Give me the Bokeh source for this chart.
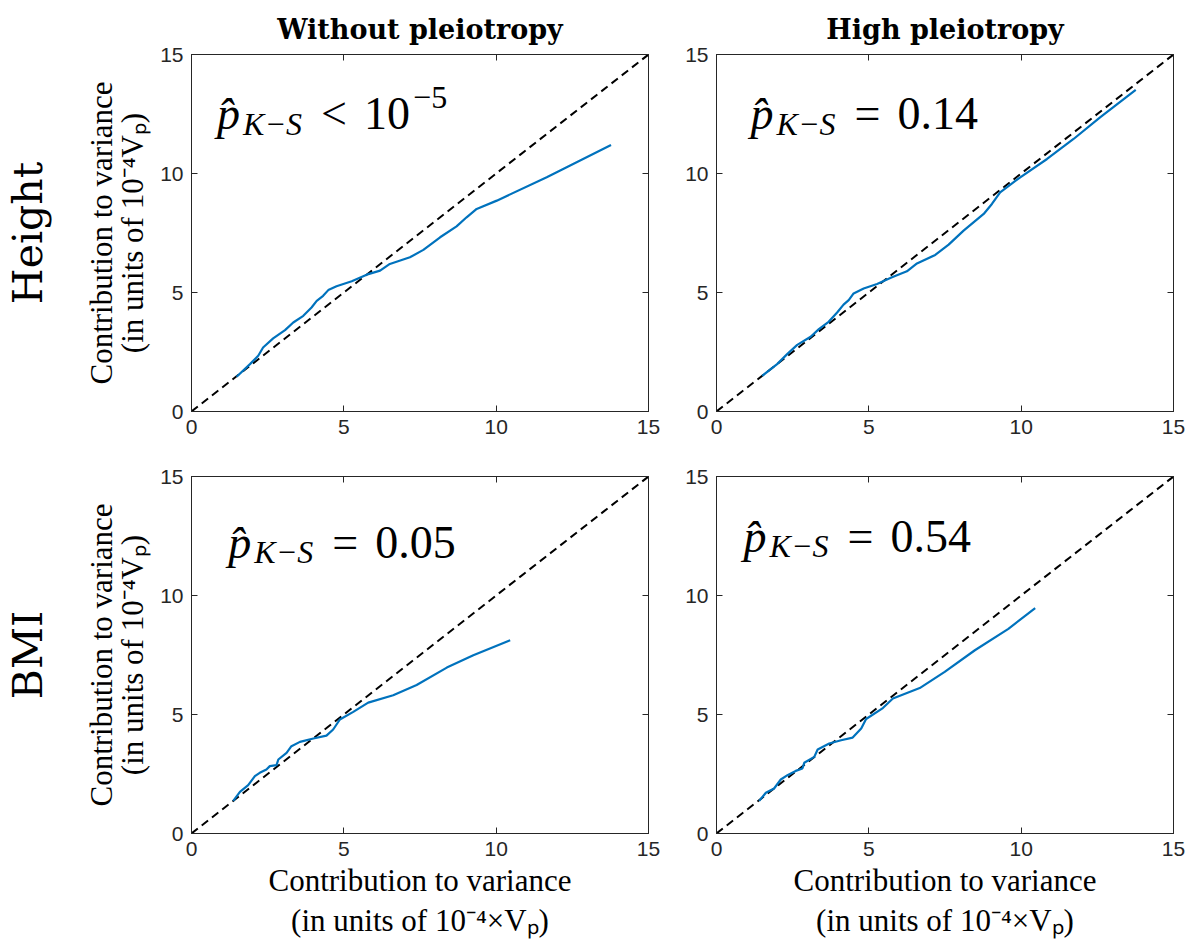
from bokeh.plotting import figure
from bokeh.models import LinearAxis, FixedTicker, Label, Range1d, CustomLabelingPolicy
from bokeh.layouts import column, row
from bokeh.embed import file_html
from bokeh.resources import INLINE

# ---------------- data ----------------
ticks = [0, 5, 10, 15]
col_titles = ["Without pleiotropy", "High pleiotropy"]
row_titles = ["Height", "BMI"]

height_nopleio_x = [1.48, 1.92, 2.19, 2.35, 2.68, 3.07, 3.34, 3.67, 3.94, 4.11, 4.32, 4.49, 4.76, 5.26,
                    5.75, 6.19, 6.51, 7.17, 7.61, 8.16, 8.70, 9.03, 9.36, 10.02, 11.66, 13.77]
height_nopleio_y = [1.46, 1.99, 2.34, 2.69, 3.07, 3.42, 3.74, 4.02, 4.37, 4.65, 4.86, 5.10, 5.26, 5.47,
                    5.75, 5.92, 6.20, 6.48, 6.79, 7.32, 7.78, 8.16, 8.51, 8.86, 9.84, 11.20]

height_pleio_x = [1.50, 1.99, 2.32, 2.65, 3.09, 3.36, 3.68, 3.96, 4.17, 4.34, 4.50, 4.83, 5.27, 5.76,
                  6.25, 6.58, 7.18, 7.62, 8.11, 8.77, 9.04, 9.31, 9.97, 10.85, 11.72, 12.59, 13.76]
height_pleio_y = [1.50, 1.99, 2.41, 2.80, 3.14, 3.46, 3.77, 4.16, 4.49, 4.68, 4.96, 5.17, 5.36, 5.64,
                  5.89, 6.22, 6.58, 7.01, 7.60, 8.30, 8.72, 9.21, 9.84, 10.61, 11.45, 12.36, 13.51]

bmi_nopleio_x = [1.37, 1.59, 1.86, 2.08, 2.24, 2.46, 2.57, 2.79, 2.85, 3.12, 3.28, 3.56, 4.00, 4.43,
                 4.65, 4.87, 5.31, 5.80, 6.62, 7.39, 8.38, 9.25, 10.46]
bmi_nopleio_y = [1.37, 1.75, 2.03, 2.41, 2.55, 2.69, 2.83, 2.87, 3.11, 3.39, 3.67, 3.85, 3.99, 4.11,
                 4.37, 4.79, 5.11, 5.50, 5.81, 6.24, 6.97, 7.49, 8.12]

bmi_pleio_x = [1.40, 1.62, 1.89, 2.11, 2.33, 2.60, 2.82, 2.88, 3.21, 3.32, 3.70, 4.09, 4.47, 4.75,
               4.91, 5.46, 5.79, 6.67, 7.49, 8.48, 9.58, 10.46]
bmi_pleio_y = [1.37, 1.71, 1.89, 2.27, 2.45, 2.63, 2.73, 2.97, 3.22, 3.53, 3.78, 3.92, 4.03, 4.41,
               4.81, 5.27, 5.67, 6.11, 6.79, 7.70, 8.60, 9.47]

diag = [0, 15]

ann_relation = ["<", "=", "=", "="]
ann_value = ["10", "0.14", "0.05", "0.54"]
ann_sup = ["\u22125", "", "", ""]

# ---------------- styles ----------------
BLUE = "#0072BD"
AX = "#262626"
TICK_FONT = "Liberation Sans"
SERIF = "Liberation Serif"
YLABEL = "Contribution to variance\n(in units of 10\u207b\u2074V\u209a)"
XLABEL = "Contribution to variance\n(in units of 10\u207b\u2074\u00d7V\u209a)"

NO_LABELS = CustomLabelingPolicy(code="""
const ids = [...indices]
for (const i of ids) indices.unset(i)
return indices
""")


def style_axis(ax, show_labels=True):
    ax.ticker = FixedTicker(ticks=ticks)
    ax.major_tick_in = 6
    ax.major_tick_out = 0
    ax.minor_tick_line_color = None
    ax.axis_line_color = AX
    ax.major_tick_line_color = AX
    ax.major_label_text_font = TICK_FONT
    ax.major_label_text_color = AX
    if show_labels:
        ax.major_label_text_font_size = "21px"
        ax.major_label_standoff = 8
    else:
        ax.major_label_text_font_size = "1px"
        ax.major_label_policy = NO_LABELS
        ax.major_label_standoff = 0


def panel(xs, ys, idx, width, height, mbl, mbr, mbt, mbb, title=None, ylabel=False,
          xlabel=False, rowlabel=None, ann_x=1.0, ann_y=12.5, rowlabel_standoff=29):
    p = figure(width=width, height=height, x_range=Range1d(0, 15), y_range=Range1d(0, 15),
               output_backend="svg", toolbar_location=None,
               min_border_left=mbl, min_border_right=mbr, min_border_top=mbt, min_border_bottom=mbb,
               title=title)
    p.grid.visible = False
    p.outline_line_color = AX
    p.background_fill_color = "white"
    p.border_fill_color = "white"
    if title:
        p.title.text_font = "DejaVu Serif"
        p.title.text_font_style = "bold"
        p.title.text_font_size = "27px"
        p.title.align = "center"
        p.title.text_color = "black"
        p.title.standoff = 12

    xb = p.xaxis[0]
    yl = p.yaxis[0]
    style_axis(xb)
    style_axis(yl)

    top = LinearAxis()
    style_axis(top, show_labels=False)
    p.add_layout(top, "above")
    right = LinearAxis()
    style_axis(right, show_labels=False)
    p.add_layout(right, "right")

    if ylabel:
        yl.axis_label = YLABEL
        yl.axis_label_text_font = SERIF
        yl.axis_label_text_font_style = "normal"
        yl.axis_label_text_font_size = "31px"
        yl.axis_label_text_line_height = 0.9
        yl.axis_label_standoff = 7
        yl.axis_label_text_color = "black"
    if xlabel:
        xb.axis_label = XLABEL
        xb.axis_label_text_font = SERIF
        xb.axis_label_text_font_style = "normal"
        xb.axis_label_text_font_size = "31px"
        xb.axis_label_text_line_height = 1.15
        xb.axis_label_standoff = 4
        xb.axis_label_text_color = "black"
    if rowlabel:
        rl = LinearAxis(ticker=FixedTicker(ticks=[]), axis_line_color=None,
                        major_tick_line_color=None, minor_tick_line_color=None,
                        major_label_policy=NO_LABELS, major_label_text_font_size="1px",
                        axis_label=rowlabel,
                        axis_label_text_font="DejaVu Serif", axis_label_text_font_style="normal",
                        axis_label_text_font_size="41px", axis_label_text_color="black",
                        axis_label_standoff=rowlabel_standoff)
        p.add_layout(rl, "left")

    p.line(diag, diag, line_color="black", line_width=2, line_dash="8 5")
    p.line(xs, ys, line_color=BLUE, line_width=2.2)

    # annotation  p-hat_{K-S} <relation> value^{sup}
    common = dict(x=ann_x, y=ann_y, text_font=SERIF, text_color="black", text_baseline="alphabetic")
    p.add_layout(Label(text="p\u0302", text_font_style="italic", text_font_size="46px", **common))
    p.add_layout(Label(text="K\u2212S", text_font_style="italic", text_font_size="32px",
                       x_offset=26, y_offset=-10, **common))
    p.add_layout(Label(text=ann_relation[idx], text_font_size="46px", x_offset=104, **common))
    p.add_layout(Label(text=ann_value[idx], text_font_size="46px", x_offset=147, **common))
    if ann_sup[idx]:
        p.add_layout(Label(text=ann_sup[idx], text_font_size="32px", x_offset=196, y_offset=16, **common))
    return p


tl = panel(height_nopleio_x, height_nopleio_y, 0, 680, 450, 191, 32, 54, 39,
           title=col_titles[0], ylabel=True, rowlabel=row_titles[0], ann_x=0.84, ann_y=12.52)
tr = panel(height_pleio_x, height_pleio_y, 1, 510, 450, 36, 17, 54, 39,
           title=col_titles[1], ann_x=1.12, ann_y=12.52)
bl = panel(bmi_nopleio_x, bmi_nopleio_y, 2, 680, 491, 191, 32, 26, 108,
           ylabel=True, xlabel=True, rowlabel=row_titles[1], ann_x=1.21, ann_y=12.24)
br = panel(bmi_pleio_x, bmi_pleio_y, 3, 510, 491, 36, 17, 26, 108,
           xlabel=True, ann_x=0.89, ann_y=12.5)

layout = column(row(tl, tr, spacing=0), row(bl, br, spacing=0), spacing=0)

open("out.html", "w").write(file_html(layout, INLINE))
